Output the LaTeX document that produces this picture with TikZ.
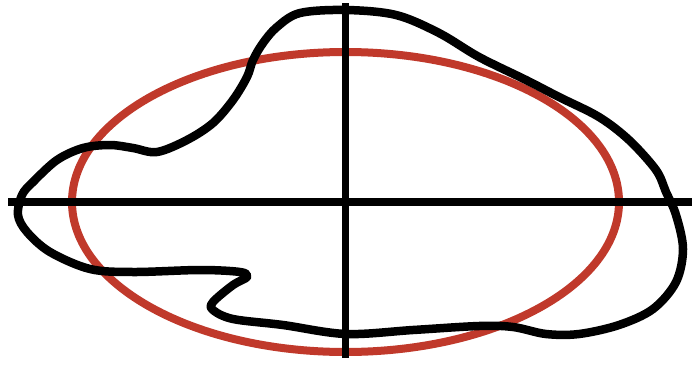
\documentclass[tikz,border=0pt]{standalone}
\definecolor{ellred}{RGB}{192,57,43}
\begin{document}
\begin{tikzpicture}[x=1pt,y=-1pt,
  axis/.style={line width=8pt,black},
  ell/.style={line width=8pt,ellred},
  blob/.style={line width=8.5pt,black,line join=round}]
\useasboundingbox (0,0) rectangle (692,364);
\draw[ell] (345.5,202) ellipse [x radius=273.5, y radius=150];
\draw[blob] plot[smooth cycle,tension=0.55] coordinates {
(346,10) (396,15) (439,33) (479,57) (526,80) (559,97) (599,117) (629,140) (656,170) (666,192) (676,215) (683,249) (676,282) (653,309) (619,325) (579,334) (546,334) (513,327) (479,326) (413,330) (346,334) (283,325) (233,319) (213,310) (213,302) (233,285) (247,277) (240,272) (200,270) (133,272) (90,269) (50,252) (27,232) (18,215) (22,195) (33,182) (57,160) (83,148) (110,145) (133,148) (157,152) (187,140) (213,123) (233,100) (247,77) (253,60) (263,43) (277,27) (300,13)};
\coordinate (hl) at (8,202);
\coordinate (hr) at (692,202);
\coordinate (vt) at (345,3);
\coordinate (vb) at (345,358);
\draw[axis] (hl) -- (hr);
\draw[axis,line width=7pt] (vt) -- (vb);
\end{tikzpicture}
\end{document}
